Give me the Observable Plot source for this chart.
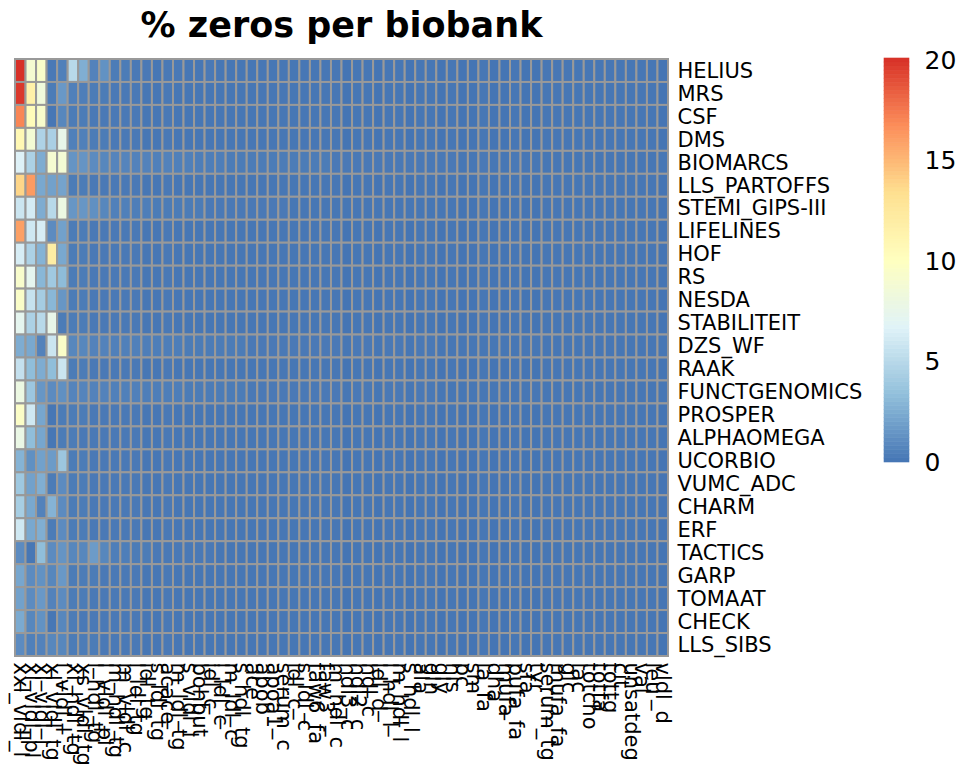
<!DOCTYPE html>
<html><head><meta charset="utf-8">
<script src="https://cdn.jsdelivr.net/npm/d3@7"></script>
<script src="https://cdn.jsdelivr.net/npm/@observablehq/plot@0.6"></script>
<style>
html,body{margin:0;padding:0;background:#fff;}
#wrap{position:relative;width:957px;height:767px;overflow:hidden;font-family:"DejaVu Sans",sans-serif;}
#title{position:absolute;left:0;top:8px;width:683px;text-align:center;font-size:35px;line-height:35px;font-weight:bold;color:#000;}
#main{position:absolute;left:0;top:0;}
#legend{position:absolute;left:860px;top:0;}
</style></head><body>
<div id="wrap"><div id="main"></div><div id="legend"></div><div id="title">% zeros per biobank</div></div>
<script>
const biobanks = ["HELIUS","MRS","CSF","DMS","BIOMARCS","LLS_PARTOFFS","STEMI_GIPS-III","LIFELINES","HOF","RS","NESDA","STABILITEIT","DZS_WF","RAAK","FUNCTGENOMICS","PROSPER","ALPHAOMEGA","UCORBIO","VUMC_ADC","CHARM","ERF","TACTICS","GARP","TOMAAT","CHECK","LLS_SIBS"];

const metabolites = ["xxl_vldl_l","xl_vldl_pl","xl_vldl_l","xl_vldl_tg","l_vldl_l","xl_hdl_tg","xs_vldl_tg","l_hdl_tg","l_vldl_pl","m_hdl_tg",
"m_vldl_c","l_ldl_tg","idl_tg","s_ldl_tg","acace","m_ldl_tg","s_vldl_l","bohbut","idl_c","l_ldl_c",
"m_ldl_c","s_hdl_tg","ace","apob","apoa1","serum_c","ldl_c","s_ldl_c","faw6_fa","faw3",
"m_hdl_c","hdl3_c","hdl2_c","hdl_c","ldl_d","l_hdl_l","m_hdl_l","s_hdl_l","ala","gln",
"gly","his","pc","sm","la_fa","dha","mufa","pufa_fa","sfa","tyr",
"serum_tg","mufa_fa","glc","lac","totcho","totfa","tottg","cit","unsatdeg","val",
"leu","vldl_d"];

const HELIUS = [20.1, 9.0, 9.4, 0.2, 0.5, 5.0, 2.6, 0.6, 1.3, 0.3,
 0.3, 0.2, 0.2, 0.1, 0.2, 0.2, 0.1, 0.1, 0.2, 0.1,
 0.1, 0.1, 0.1, 0.1, 0.1, 0.1, 0.1, 0.1, 0.1, 0.1,
 0.1, 0, 0.1, 0.1, 0, 0.1, 0.1, 0, 0.1, 0.1,
 0, 0.1, 0, 0, 0.1, 0, 0, 0.1, 0, 0,
 0.1, 0.1, 0.1, 0.1, 0.1, 0.1, 0.1, 0.1, 0.1, 0.1,
 0.1, 0];
const MRS = [19.8, 11.6, 8.4, 0.3, 1.6, 0.5, 0.4, 0.3, 0.3, 0.2,
 0.2, 0.2, 0.1, 0.1, 0.2, 0.1, 0.1, 0.1, 0.1, 0.1,
 0.1, 0.1, 0.1, 0.1, 0.1, 0.1, 0.1, 0.1, 0.1, 0.1,
 0.1, 0, 0.1, 0.1, 0, 0.1, 0.1, 0, 0.1, 0.1,
 0, 0.1, 0, 0, 0.1, 0, 0, 0.1, 0, 0,
 0.1, 0.1, 0.1, 0.1, 0.1, 0.1, 0.1, 0.1, 0.1, 0.1,
 0.1, 0];
const CSF = [17.0, 10.4, 9.3, 0.1, 0.8, 0.3, 0.3, 0.2, 0.2, 0.2,
 0.2, 0.2, 0.1, 0.1, 0.2, 0.1, 0.1, 0.1, 0.1, 0.1,
 0.1, 0.1, 0.1, 0.1, 0.1, 0.1, 0.1, 0.1, 0.1, 0.1,
 0.1, 0, 0.1, 0.1, 0, 0.1, 0.1, 0, 0.1, 0.1,
 0, 0.1, 0, 0, 0.1, 0, 0, 0.1, 0, 0,
 0.1, 0.1, 0.1, 0.1, 0.1, 0.1, 0.1, 0.1, 0.1, 0.1,
 0.1, 0];
const DMS = [10.8, 8.8, 4.6, 4.4, 7.6, 0.5, 0.5, 0.3, 0.3, 0.2,
 0.2, 0.2, 0.1, 0.1, 0.2, 0.1, 0.1, 0.1, 0.1, 0.1,
 0.1, 0.1, 0.1, 0.1, 0.1, 0.1, 0.1, 0.1, 0.1, 0.1,
 0.1, 0, 0.1, 0.1, 0, 0.1, 0.1, 0, 0.1, 0.1,
 0, 0.1, 0, 0, 0.1, 0, 0, 0.1, 0, 0,
 0.1, 0.1, 0.1, 0.1, 0.1, 0.1, 0.1, 0.1, 0.1, 0.1,
 0.1, 0];
const BIOMARCS = [6.6, 4.5, 2.5, 9.0, 8.8, 1.4, 1.4, 1.0, 0.8, 0.7,
 0.7, 0.6, 0.6, 0.5, 0.6, 0.5, 0.5, 0.4, 0.4, 0.4,
 0.3, 0.3, 0.3, 0.3, 0.3, 0.3, 0.3, 0.3, 0.3, 0.3,
 0.2, 0.2, 0.2, 0.2, 0.2, 0.2, 0.2, 0.2, 0.2, 0.2,
 0.2, 0.2, 0.1, 0.1, 0.2, 0.1, 0.1, 0.2, 0.1, 0.1,
 0.1, 0.1, 0.1, 0.1, 0.1, 0.1, 0.1, 0.1, 0.1, 0.1,
 0.1, 0.1];
const LLS_PARTOFFS = [13.8, 16.2, 2.3, 2.0, 2.1, 0.3, 0.3, 0.2, 0.2, 0.2,
 0.2, 0.2, 0.1, 0.1, 0.2, 0.1, 0.1, 0.1, 0.1, 0.1,
 0.1, 0.1, 0.1, 0.1, 0.1, 0.1, 0.1, 0.1, 0.1, 0.1,
 0.1, 0, 0.1, 0.1, 0, 0.1, 0.1, 0, 0.1, 0.1,
 0, 0.1, 0, 0, 0.1, 0, 0, 0.1, 0, 0,
 0.1, 0.1, 0.1, 0.1, 0.1, 0.1, 0.1, 0.1, 0.1, 0.1,
 0.1, 0];
const STEMI_GIPS = [5.8, 6.2, 2.5, 5.0, 8.0, 1.5, 1.5, 1.2, 0.8, 0.5,
 0.5, 0.4, 0.4, 0.3, 0.3, 0.3, 0.3, 0.3, 0.2, 0.2,
 0.2, 0.2, 0.2, 0.2, 0.2, 0.2, 0.1, 0.1, 0.1, 0.1,
 0.1, 0.1, 0.1, 0.1, 0.1, 0.1, 0.1, 0.1, 0.1, 0.1,
 0.1, 0.1, 0, 0, 0.1, 0, 0, 0.1, 0, 0,
 0.1, 0.1, 0.1, 0.1, 0.1, 0.1, 0.1, 0.1, 0.1, 0.1,
 0.1, 0];
const LIFELINES = [16.0, 6.0, 6.3, 1.0, 2.0, 0.3, 0.3, 0.2, 0.2, 0.2,
 0.2, 0.2, 0.1, 0.1, 0.2, 0.1, 0.1, 0.1, 0.1, 0.1,
 0.1, 0.1, 0.1, 0.1, 0.1, 0.1, 0.1, 0.1, 0.1, 0.1,
 0.1, 0, 0.1, 0.1, 0, 0.1, 0.1, 0, 0.1, 0.1,
 0, 0.1, 0, 0, 0.1, 0, 0, 0.1, 0, 0,
 0.1, 0.1, 0.1, 0.1, 0.1, 0.1, 0.1, 0.1, 0.1, 0.1,
 0.1, 0];
const HOF = [6.3, 4.5, 2.8, 12.0, 2.3, 0.3, 0.3, 0.2, 0.2, 0.2,
 0.2, 0.2, 0.1, 0.1, 0.2, 0.1, 0.1, 0.1, 0.1, 0.1,
 0.1, 0.1, 0.1, 0.1, 0.1, 0.1, 0.1, 0.1, 0.1, 0.1,
 0.1, 0, 0.1, 0.1, 0, 0.1, 0.1, 0, 0.1, 0.1,
 0, 0.1, 0, 0, 0.1, 0, 0, 0.1, 0, 0,
 0.1, 0.1, 0.1, 0.1, 0.1, 0.1, 0.1, 0.1, 0.1, 0.1,
 0.1, 0];
const RS = [9.3, 7.2, 3.0, 4.0, 3.2, 0.3, 0.3, 0.2, 0.2, 0.2,
 0.2, 0.2, 0.1, 0.1, 0.2, 0.1, 0.1, 0.1, 0.1, 0.1,
 0.1, 0.1, 0.1, 0.1, 0.1, 0.1, 0.1, 0.1, 0.1, 0.1,
 0.1, 0, 0.1, 0.1, 0, 0.1, 0.1, 0, 0.1, 0.1,
 0, 0.1, 0, 0, 0.1, 0, 0, 0.1, 0, 0,
 0.1, 0.1, 0.1, 0.1, 0.1, 0.1, 0.1, 0.1, 0.1, 0.1,
 0.1, 0];
const NESDA = [9.5, 5.6, 4.2, 3.0, 1.5, 0.3, 0.3, 0.2, 0.2, 0.2,
 0.2, 0.2, 0.1, 0.1, 0.2, 0.1, 0.1, 0.1, 0.1, 0.1,
 0.1, 0.1, 0.1, 0.1, 0.1, 0.1, 0.1, 0.1, 0.1, 0.1,
 0.1, 0, 0.1, 0.1, 0, 0.1, 0.1, 0, 0.1, 0.1,
 0, 0.1, 0, 0, 0.1, 0, 0, 0.1, 0, 0,
 0.1, 0.1, 0.1, 0.1, 0.1, 0.1, 0.1, 0.1, 0.1, 0.1,
 0.1, 0];
const STABILITEIT = [7.2, 4.5, 5.0, 7.6, 0.3, 0.3, 0.3, 0.2, 0.2, 0.2,
 0.2, 0.2, 0.1, 0.1, 0.2, 0.1, 0.1, 0.1, 0.1, 0.1,
 0.1, 0.1, 0.1, 0.1, 0.1, 0.1, 0.1, 0.1, 0.1, 0.1,
 0.1, 0, 0.1, 0.1, 0, 0.1, 0.1, 0, 0.1, 0.1,
 0, 0.1, 0, 0, 0.1, 0, 0, 0.1, 0, 0,
 0.1, 0.1, 0.1, 0.1, 0.1, 0.1, 0.1, 0.1, 0.1, 0.1,
 0.1, 0];
const DZS_WF = [2.5, 2.3, 0.6, 5.8, 9.5, 0.8, 0.8, 0.6, 0.6, 0.5,
 0.5, 0.5, 0.4, 0.4, 0.4, 0.4, 0.3, 0.3, 0.3, 0.3,
 0.3, 0.3, 0.2, 0.2, 0.2, 0.2, 0.2, 0.2, 0.2, 0.2,
 0.2, 0.1, 0.2, 0.2, 0.1, 0.2, 0.2, 0.1, 0.2, 0.2,
 0.1, 0.1, 0.1, 0.1, 0.1, 0.1, 0.1, 0.1, 0.1, 0.1,
 0.1, 0.1, 0.1, 0.1, 0.1, 0.1, 0.1, 0.1, 0.1, 0.1,
 0.1, 0.1];
const RAAK = [5.5, 3.3, 2.5, 3.3, 5.8, 0.3, 0.3, 0.2, 0.2, 0.2,
 0.2, 0.2, 0.1, 0.1, 0.2, 0.1, 0.1, 0.1, 0.1, 0.1,
 0.1, 0.1, 0.1, 0.1, 0.1, 0.1, 0.1, 0.1, 0.1, 0.1,
 0.1, 0, 0.1, 0.1, 0, 0.1, 0.1, 0, 0.1, 0.1,
 0, 0.1, 0, 0, 0.1, 0, 0, 0.1, 0, 0,
 0.1, 0.1, 0.1, 0.1, 0.1, 0.1, 0.1, 0.1, 0.1, 0.1,
 0.1, 0];
const FUNCTGENOMICS = [8.0, 3.8, 1.5, 1.0, 1.2, 0.7, 0.7, 0.6, 0.6, 0.5,
 0.5, 0.5, 0.4, 0.4, 0.4, 0.4, 0.3, 0.3, 0.3, 0.3,
 0.3, 0.3, 0.2, 0.2, 0.2, 0.2, 0.2, 0.2, 0.2, 0.2,
 0.2, 0.1, 0.2, 0.2, 0.1, 0.2, 0.2, 0.1, 0.2, 0.2,
 0.1, 0.1, 0.1, 0.1, 0.1, 0.1, 0.1, 0.1, 0.1, 0.1,
 0.1, 0.1, 0.1, 0.1, 0.1, 0.1, 0.1, 0.1, 0.1, 0.1,
 0.1, 0.1];
const PROSPER = [9.6, 6.0, 2.2, 0.1, 0.3, 0.3, 0.3, 0.2, 0.2, 0.2,
 0.2, 0.2, 0.1, 0.1, 0.2, 0.1, 0.1, 0.1, 0.1, 0.1,
 0.1, 0.1, 0.1, 0.1, 0.1, 0.1, 0.1, 0.1, 0.1, 0.1,
 0.1, 0, 0.1, 0.1, 0, 0.1, 0.1, 0, 0.1, 0.1,
 0, 0.1, 0, 0, 0.1, 0, 0, 0.1, 0, 0,
 0.1, 0.1, 0.1, 0.1, 0.1, 0.1, 0.1, 0.1, 0.1, 0.1,
 0.1, 0];
const ALPHAOMEGA = [7.8, 3.3, 2.2, 0.1, 0.3, 0.3, 0.2, 0.2, 0.2, 0.2,
 0.2, 0.2, 0.1, 0.1, 0.2, 0.1, 0.1, 0.1, 0.1, 0.1,
 0.1, 0.1, 0.1, 0.1, 0.1, 0.1, 0.1, 0.1, 0.1, 0.1,
 0.1, 0, 0.1, 0.1, 0, 0.1, 0.1, 0, 0.1, 0.1,
 0, 0.1, 0, 0, 0.1, 0, 0, 0.1, 0, 0,
 0.1, 0.1, 0.1, 0.1, 0.1, 0.1, 0.1, 0.1, 0.1, 0.1,
 0.1, 0];
const UCORBIO = [2.8, 1.2, 2.0, 1.7, 3.8, 0.3, 0.3, 0.2, 0.2, 0.2,
 0.2, 0.2, 0.1, 0.1, 0.2, 0.1, 0.1, 0.1, 0.1, 0.1,
 0.1, 0.1, 0.1, 0.1, 0.1, 0.1, 0.1, 0.1, 0.1, 0.1,
 0.1, 0, 0.1, 0.1, 0, 0.1, 0.1, 0, 0.1, 0.1,
 0, 0.1, 0, 0, 0.1, 0, 0, 0.1, 0, 0,
 0.1, 0.1, 0.1, 0.1, 0.1, 0.1, 0.1, 0.1, 0.1, 0.1,
 0.1, 0];
const VUMC_ADC = [3.9, 2.0, 2.6, 0.3, 1.0, 0.3, 0.3, 0.2, 0.2, 0.2,
 0.2, 0.2, 0.1, 0.1, 0.2, 0.1, 0.1, 0.1, 0.1, 0.1,
 0.1, 0.1, 0.1, 0.1, 0.1, 0.1, 0.1, 0.1, 0.1, 0.1,
 0.1, 0, 0.1, 0.1, 0, 0.1, 0.1, 0, 0.1, 0.1,
 0, 0.1, 0, 0, 0.1, 0, 0, 0.1, 0, 0,
 0.1, 0.1, 0.1, 0.1, 0.1, 0.1, 0.1, 0.1, 0.1, 0.1,
 0.1, 0];
const CHARM = [4.3, 2.3, 0.6, 2.8, 1.0, 0.3, 0.3, 0.2, 0.2, 0.2,
 0.2, 0.2, 0.1, 0.1, 0.2, 0.1, 0.1, 0.1, 0.1, 0.1,
 0.1, 0.1, 0.1, 0.1, 0.1, 0.1, 0.1, 0.1, 0.1, 0.1,
 0.1, 0, 0.1, 0.1, 0, 0.1, 0.1, 0, 0.1, 0.1,
 0, 0.1, 0, 0, 0.1, 0, 0, 0.1, 0, 0,
 0.1, 0.1, 0.1, 0.1, 0.1, 0.1, 0.1, 0.1, 0.1, 0.1,
 0.1, 0];
const ERF = [6.0, 2.3, 2.6, 0.3, 1.0, 0.3, 0.3, 0.2, 0.2, 0.2,
 0.2, 0.2, 0.1, 0.1, 0.2, 0.1, 0.1, 0.1, 0.1, 0.1,
 0.1, 0.1, 0.1, 0.1, 0.1, 0.1, 0.1, 0.1, 0.1, 0.1,
 0.1, 0, 0.1, 0.1, 0, 0.1, 0.1, 0, 0.1, 0.1,
 0, 0.1, 0, 0, 0.1, 0, 0, 0.1, 0, 0,
 0.1, 0.1, 0.1, 0.1, 0.1, 0.1, 0.1, 0.1, 0.1, 0.1,
 0.1, 0];
const TACTICS = [1.0, 0.1, 3.3, 1.0, 1.4, 0.8, 0.8, 1.7, 0.8, 0.4,
 0.4, 0.3, 0.3, 0.2, 0.2, 0.2, 0.2, 0.2, 0.2, 0.1,
 0.1, 0.1, 0.1, 0.1, 0.1, 0.1, 0.1, 0.1, 0.1, 0.1,
 0.1, 0, 0.1, 0.1, 0, 0.1, 0.1, 0, 0.1, 0.1,
 0, 0.1, 0, 0, 0.1, 0, 0, 0.1, 0, 0,
 0.1, 0.1, 0.1, 0.1, 0.1, 0.1, 0.1, 0.1, 0.1, 0.1,
 0.1, 0];
const GARP = [2.2, 1.0, 1.3, 0.8, 1.6, 0.3, 0.3, 0.3, 0.2, 0.2,
 0.2, 0.2, 0.1, 0.1, 0.2, 0.1, 0.1, 0.1, 0.1, 0.1,
 0.1, 0.1, 0.1, 0.1, 0.1, 0.1, 0.1, 0.1, 0.1, 0.1,
 0.1, 0, 0.1, 0.1, 0, 0.1, 0.1, 0, 0.1, 0.1,
 0, 0.1, 0, 0, 0.1, 0, 0, 0.1, 0, 0,
 0.1, 0.1, 0.1, 0.1, 0.1, 0.1, 0.1, 0.1, 0.1, 0.1,
 0.1, 0];
const TOMAAT = [2.0, 1.0, 1.6, 0.6, 1.0, 0.3, 0.3, 0.2, 0.2, 0.2,
 0.2, 0.2, 0.1, 0.1, 0.2, 0.1, 0.1, 0.1, 0.1, 0.1,
 0.1, 0.1, 0.1, 0.1, 0.1, 0.1, 0.1, 0.1, 0.1, 0.1,
 0.1, 0, 0.1, 0.1, 0, 0.1, 0.1, 0, 0.1, 0.1,
 0, 0.1, 0, 0, 0.1, 0, 0, 0.1, 0, 0,
 0.1, 0.1, 0.1, 0.1, 0.1, 0.1, 0.1, 0.1, 0.1, 0.1,
 0.1, 0];
const CHECK = [2.4, 0.8, 1.3, 0.1, 0.8, 0.3, 0.2, 0.2, 0.2, 0.2,
 0.2, 0.2, 0.1, 0.1, 0.2, 0.1, 0.1, 0.1, 0.1, 0.1,
 0.1, 0.1, 0.1, 0.1, 0.1, 0.1, 0.1, 0.1, 0.1, 0.1,
 0.1, 0, 0.1, 0.1, 0, 0.1, 0.1, 0, 0.1, 0.1,
 0, 0.1, 0, 0, 0.1, 0, 0, 0.1, 0, 0,
 0.1, 0.1, 0.1, 0.1, 0.1, 0.1, 0.1, 0.1, 0.1, 0.1,
 0.1, 0];
const LLS_SIBS = [1.0, 0.5, 0.6, 0.8, 0.8, 0.3, 0.3, 0.3, 0.2, 0.2,
 0.2, 0.2, 0.1, 0.1, 0.2, 0.1, 0.1, 0.1, 0.1, 0.1,
 0.1, 0.1, 0.1, 0.1, 0.1, 0.1, 0.1, 0.1, 0.1, 0.1,
 0.1, 0, 0.1, 0.1, 0, 0.1, 0.1, 0, 0.1, 0.1,
 0, 0.1, 0, 0, 0.1, 0, 0, 0.1, 0, 0,
 0.1, 0.1, 0.1, 0.1, 0.1, 0.1, 0.1, 0.1, 0.1, 0.1,
 0.1, 0];

const series = [HELIUS, MRS, CSF, DMS, BIOMARCS, LLS_PARTOFFS, STEMI_GIPS, LIFELINES, HOF, RS, NESDA, STABILITEIT, DZS_WF, RAAK, FUNCTGENOMICS, PROSPER, ALPHAOMEGA, UCORBIO, VUMC_ADC, CHARM, ERF, TACTICS, GARP, TOMAAT, CHECK, LLS_SIBS];

const legendTicks = [0, 5, 10, 15, 20];
const maxValue = 20.1;
const palette = ["#4575B4", "#91BFDB", "#E0F3F8", "#FFFFBF", "#FEE090", "#FC8D59", "#D73027"];

const table = [];
biobanks.forEach((b, i) => series[i].forEach((v, j) => table.push({biobank: b, metabolite: metabolites[j], value: v})));

const colorScale = {type: "linear", domain: [0, maxValue], interpolate: d3.piecewise(d3.interpolateRgb, palette)};

const main = Plot.plot({
  width: 880, height: 767,
  marginLeft: 15, marginRight: 212, marginTop: 59, marginBottom: 111,
  style: {fontFamily: "DejaVu Sans", color: "#000", background: "transparent", overflow: "visible"},
  x: {domain: metabolites, padding: 0, round: false},
  y: {domain: biobanks, padding: 0, round: false},
  color: colorScale,
  marks: [
    Plot.cell(table, {x: "metabolite", y: "biobank", fill: "value", stroke: "#999999", strokeWidth: 2, inset: 0}),
    Plot.axisX({anchor: "bottom", tickRotate: 90, tickSize: 0, tickPadding: 6, fontSize: 21, label: null}),
    Plot.axisY({anchor: "right", tickSize: 0, tickPadding: 9, fontSize: 21, label: null})
  ]
});
document.getElementById("main").appendChild(main);

const legendSteps = d3.range(100).map(i => ({lo: i * maxValue / 100, hi: (i + 1) * maxValue / 100}));
const legend = Plot.plot({
  width: 97, height: 767,
  marginLeft: 24, marginRight: 48, marginTop: 58, marginBottom: 305,
  style: {fontFamily: "DejaVu Sans", color: "#000", background: "transparent", overflow: "visible"},
  x: {domain: [0, 1], axis: null},
  y: {domain: [0, maxValue]},
  color: colorScale,
  marks: [
    Plot.rect(legendSteps, {x1: 0, x2: 1, y1: "lo", y2: "hi", fill: d => (d.lo + d.hi) / 2, stroke: d => (d.lo + d.hi) / 2, strokeWidth: 0.6, inset: 0}),
    Plot.axisY({anchor: "right", ticks: legendTicks, tickSize: 0, tickPadding: 15, fontSize: 25, tickFormat: d => String(d), label: null})
  ]
});
document.getElementById("legend").appendChild(legend);
</script>
</body></html>
